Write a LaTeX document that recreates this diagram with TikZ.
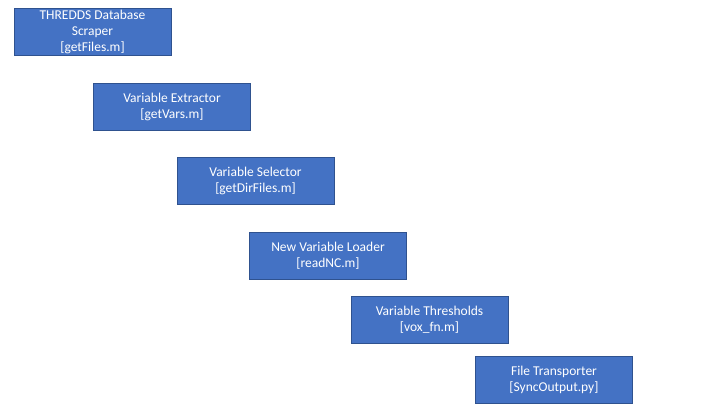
\documentclass[tikz,border=0pt]{standalone}
\usepackage{fontspec}
\setmainfont{Carlito}
\definecolor{boxfill}{HTML}{4472C4}
\definecolor{boxline}{HTML}{2F528F}
\begin{document}
\begin{tikzpicture}[x=1pt,y=-1pt,
  stepbox/.style={draw=boxline,line width=0.8pt,fill=boxfill,text=white,
    minimum width=157pt,minimum height=47pt,inner sep=0pt,align=center,
    font=\fontsize{13.5}{16}\selectfont}]
\useasboundingbox (0,0) rectangle (720,405);
\node[stepbox] (a) at (92.5,31.5) {THREDDS Database\\Scraper\\{[}getFiles.m{]}};
\node[stepbox] (b) at (172,106.5) {Variable Extractor\\{[}getVars.m{]}};
\node[stepbox] (c) at (255.5,181) {Variable Selector\\{[}getDirFiles.m{]}};
\node[stepbox] (d) at (328,255.5) {New Variable Loader\\{[}readNC.m{]}};
\node[stepbox] (e) at (429.5,320) {Variable Thresholds\\{[}vox\_fn.m{]}};
\node[stepbox] (f) at (554,379.5) {File Transporter\\{[}SyncOutput.py{]}};
\end{tikzpicture}
\end{document}
